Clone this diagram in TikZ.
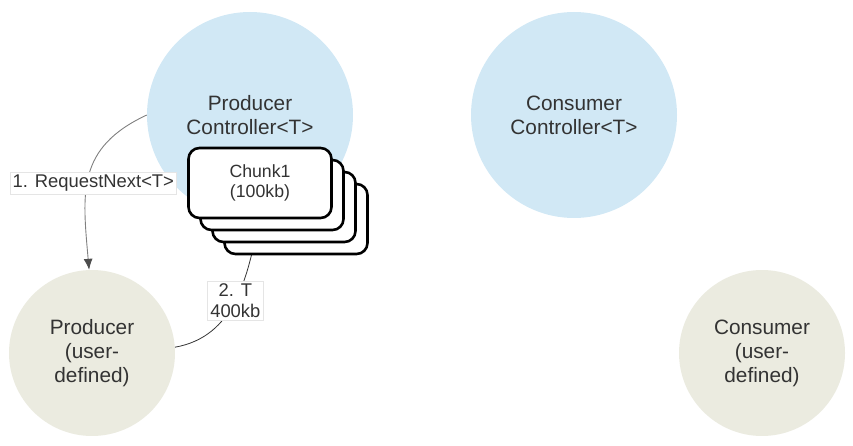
\documentclass[tikz,border=0pt]{standalone}
\usepackage{fontspec}
\setmainfont{Liberation Sans}
\usepackage{xcolor}
\usepackage{tikz}
\usetikzlibrary{arrows.meta}
\definecolor{ctrlblue}{RGB}{209,232,245}
\definecolor{userbeige}{RGB}{235,235,224}
\definecolor{txtgray}{RGB}{51,51,51}
\tikzset{
  bubble/.style={circle,inner sep=0pt,align=center,text=txtgray,
    font=\fontsize{20.8}{24}\selectfont},
  chunkbox/.style={draw=black,line width=2.6pt,fill=white,rounded corners=11pt,
    minimum width=143pt,minimum height=70pt,inner sep=0pt},
  lbl/.style={fill=white,draw=black!10,inner sep=2.5pt,align=center,text=txtgray,
    font=\fontsize{18.4}{21}\selectfont}
}

\begin{document}
\begin{tikzpicture}[x=1pt,y=1pt]
\useasboundingbox (0,0) rectangle (853,445);
\node[bubble,fill=ctrlblue,minimum size=206pt] (pc) at (250,330) {Producer\\Controller<T>};
\node[bubble,fill=ctrlblue,minimum size=206pt] (cc) at (574,330) {Consumer\\Controller<T>};
\node[bubble,fill=userbeige,minimum size=166pt] (p) at (92,92) {Producer\\(user-\\defined)};
\node[bubble,fill=userbeige,minimum size=166pt] (c) at (762,92) {Consumer\\(user-\\defined)};
\path(pc.180) edge[-{Latex[length=11pt,width=9pt,color=black!70]},draw=black!50,line width=0.9pt,out=205,in=95,looseness=1.2] node[lbl,pos=0.55,xshift=6pt]{1. RequestNext<T>} (p.92);
\path(pc.275) edge[draw=txtgray,line width=0.8pt,out=260,in=10] node[lbl]{2. T\\400kb} (p.4);
\foreach \i/\dx in {3/36,2/24,1/12}
  \node[chunkbox] (chunk\i) at (260+\dx,262-\dx) {};
\node[chunkbox,align=center,text=txtgray,font=\fontsize{17.7}{20}\selectfont] (chunk0) at (260,262) {Chunk1\\(100kb)};
\end{tikzpicture}
\end{document}
